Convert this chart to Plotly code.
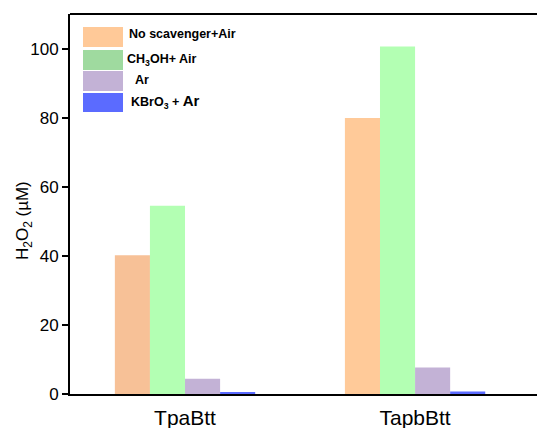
import plotly.graph_objects as go

# Samples on the x axis
samples = ["TpaBtt", "TapbBtt"]

# H2O2 produced (µM) under each condition
no_scavenger_air = [40.2, 79.9]
ch3oh_air = [54.5, 100.6]
argon = [4.4, 7.7]
kbro3_argon = [0.6, 0.7]

series_names = ["No scavenger+Air", "CH3OH+ Air", "Ar", "KBrO3 + Ar"]
legend_labels = [
    "<b>No scavenger+Air</b>",
    "<b>CH<sub>3</sub>OH+ Air</b>",
    "<b>Ar</b>",
    "<b>KBrO<sub>3</sub> + <span style='font-size:15px'>Ar</span></b>",
]
bar_colors = [
    ["#F7C197", "#FFCA99"],
    ["#B3FFB3", "#B3FFB3"],
    ["#C3B2D6", "#C3B2D6"],
    ["#5B6BFF", "#5B6BFF"],
]
legend_colors = ["#FFC998", "#9FDA9F", "#C3B2D6", "#5B6BFF"]

W, H = 537, 428
ML, MR, MT, MB = 70, 0, 14, 34
PW, PH = W - ML - MR, H - MT - MB

fig = go.Figure()
x_idx = list(range(len(samples)))
for name, vals, cols in zip(series_names,
                            [no_scavenger_air, ch3oh_air, argon, kbro3_argon],
                            bar_colors):
    fig.add_trace(go.Bar(x=x_idx, y=vals, name=name, marker_color=cols,
                         marker_line_width=0, showlegend=False))


def px_x(px):
    return (px - ML) / PW


def px_y(py):
    return (H - MB - py) / PH


# Hand-built legend with wide swatches
swatch_rows = [(27, 47), (50, 70), (71, 91), (93, 112)]
text_x = [127, 125, 133, 129]
text_y = [34, 60, 80, 101]
shapes = []
annotations = []
for (y0, y1), col, lab, tx, ty in zip(swatch_rows, legend_colors, legend_labels,
                                      text_x, text_y):
    shapes.append(dict(type="rect", xref="paper", yref="paper",
                       x0=px_x(83), x1=px_x(123), y0=px_y(y1), y1=px_y(y0),
                       fillcolor=col, line_width=0))
    annotations.append(dict(xref="paper", yref="paper", x=px_x(tx),
                            y=px_y(ty), text=lab, showarrow=False,
                            xanchor="left", yanchor="middle",
                            font=dict(size=12.5, color="black",
                                      family="Liberation Sans, Arial")))

# Y axis title
annotations.append(dict(xref="paper", yref="paper", x=px_x(24), y=px_y(221),
                        text="H<sub>2</sub>O<sub>2</sub> (µM)", textangle=-90,
                        showarrow=False, xanchor="center", yanchor="middle",
                        font=dict(size=17, color="black",
                                  family="Liberation Sans, Arial")))

# Frame top line
shapes.append(dict(type="line", xref="paper", yref="paper", x0=0, x1=1.0,
                   y0=1, y1=1, line=dict(color="black", width=2)))

fig.update_layout(
    width=W, height=H,
    margin=dict(l=ML, r=MR, t=MT, b=MB),
    paper_bgcolor="white", plot_bgcolor="white",
    barmode="group", bargap=0.39, bargroupgap=0,
    font=dict(family="Liberation Sans, Arial", color="black"),
    shapes=shapes, annotations=annotations,
    xaxis=dict(range=[-0.5, 1.53], tickvals=x_idx, ticktext=samples,
               showgrid=False, zeroline=False, showline=True, linecolor="black",
               linewidth=2, ticks="", tickfont=dict(size=21),
               ticklabelstandoff=4),
    yaxis=dict(range=[0, 110], tickvals=[0, 20, 40, 60, 80, 100],
               showgrid=False, zeroline=False, showline=True, linecolor="black",
               linewidth=2, ticks="outside", ticklen=6, tickwidth=1.5,
               tickcolor="black", tickfont=dict(size=17)),
)

fig.write_html("out.html")
